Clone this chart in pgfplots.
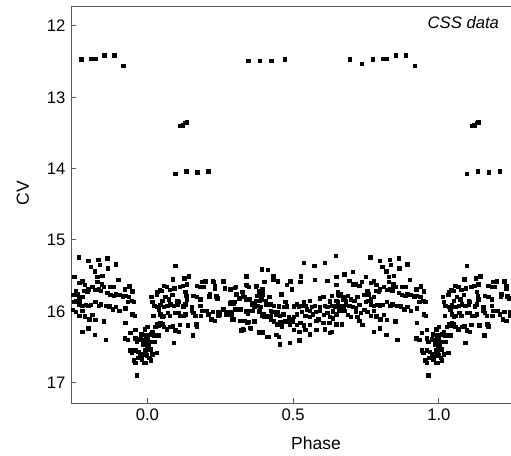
\documentclass[border=0pt]{standalone}
\usepackage{fontspec}
\setmainfont{Liberation Sans}
\usepackage{pgfplots}
\usepackage{pgfplotstable}
\pgfplotsset{compat=1.18}

% folded light curve, phase in [0,1)
\pgfplotstableread{
ph mag
0.096 14.07
0.134 14.04
0.172 14.05
0.209 14.04
0.113 13.40
0.121 13.39
0.130 13.36
0.136 13.35
0.346 12.49
0.386 12.49
0.426 12.49
0.471 12.47
0.695 12.47
0.735 12.53
0.774 12.47
0.808 12.46
0.822 12.46
0.853 12.41
0.887 12.41
0.918 12.56
0.096 15.36
0.087 15.55
0.127 15.54
0.142 15.51
0.056 15.64
0.066 15.66
0.042 15.70
0.034 15.73
0.050 15.71
0.077 15.70
0.093 15.68
0.111 15.66
0.122 15.64
0.136 15.62
0.169 15.64
0.186 15.59
0.198 15.58
0.181 15.66
0.192 15.66
0.224 15.58
0.232 15.64
0.232 15.68
0.260 15.58
0.266 15.68
0.285 15.69
0.303 15.66
0.305 15.76
0.325 15.73
0.014 15.80
0.032 15.77
0.051 15.85
0.062 15.80
0.073 15.83
0.085 15.77
0.102 15.85
0.130 15.73
0.133 15.78
0.136 15.83
0.158 15.78
0.169 15.80
0.181 15.83
0.215 15.76
0.212 15.79
0.235 15.79
0.240 15.82
0.288 15.87
0.299 15.87
0.316 15.82
0.017 15.87
0.023 15.92
0.034 15.94
0.040 15.97
0.045 15.91
0.056 15.94
0.068 15.92
0.079 15.90
0.090 15.92
0.102 15.90
0.107 15.87
0.130 15.90
0.124 15.93
0.153 15.94
0.153 15.99
0.181 15.92
0.186 15.99
0.183 16.06
0.203 15.99
0.209 16.04
0.224 16.01
0.220 16.11
0.243 16.01
0.243 16.06
0.260 15.97
0.271 16.04
0.288 16.04
0.303 15.97
0.316 15.97
0.292 16.11
0.328 16.13
0.322 16.27
0.020 16.06
0.045 16.04
0.051 16.08
0.056 16.06
0.070 16.02
0.077 16.06
0.096 16.02
0.107 16.02
0.113 16.06
0.124 16.06
0.130 16.04
0.158 16.02
0.164 16.06
0.034 16.18
0.040 16.20
0.045 16.16
0.051 16.18
0.028 16.22
0.056 16.22
0.066 16.25
0.079 16.22
0.088 16.21
0.111 16.19
0.138 16.20
0.167 16.18
0.169 16.21
0.096 16.27
0.107 16.29
0.000 16.22
0.017 16.29
0.011 16.32
0.023 16.34
0.040 16.34
0.156 16.34
0.090 16.44
0.994 16.34
0.000 16.39
0.006 16.43
0.023 16.43
0.998 16.48
0.011 16.53
0.032 16.58
0.017 16.60
0.994 16.60
0.006 16.65
0.011 16.69
0.994 16.72
0.300 15.67
0.305 15.76
0.339 15.63
0.328 15.79
0.339 15.83
0.296 15.89
0.289 16.01
0.300 15.97
0.317 15.97
0.339 15.99
0.345 16.03
0.294 16.11
0.317 16.13
0.333 16.13
0.328 16.25
0.339 15.51
0.348 15.66
0.348 16.15
0.351 16.23
0.362 15.99
0.384 15.99
0.393 16.04
0.401 16.07
0.412 16.08
0.424 16.06
0.359 15.89
0.367 15.90
0.384 15.85
0.407 15.85
0.418 15.80
0.418 15.90
0.384 15.73
0.395 15.76
0.373 15.64
0.401 15.59
0.384 16.29
0.395 16.29
0.412 16.36
0.367 16.14
0.226 15.59
0.266 15.67
0.283 15.70
0.237 15.79
0.283 15.89
0.249 16.04
0.277 16.01
0.232 16.13
0.536 15.32
0.572 15.36
0.609 15.32
0.646 15.22
0.392 15.41
0.414 15.42
0.340 15.51
0.432 15.51
0.432 15.55
0.447 15.58
0.490 15.58
0.479 15.63
0.496 15.69
0.527 15.51
0.524 15.59
0.575 15.56
0.617 15.57
0.649 15.52
0.649 15.63
0.341 15.64
0.372 15.65
0.394 15.69
0.383 15.72
0.377 15.78
0.332 15.80
0.349 15.83
0.372 15.85
0.391 15.83
0.417 15.80
0.459 15.76
0.473 15.87
0.502 15.93
0.536 15.87
0.558 15.85
0.592 15.82
0.603 15.80
0.632 15.78
0.654 15.76
0.626 15.86
0.649 15.85
0.360 15.90
0.366 15.93
0.377 15.92
0.388 15.94
0.406 15.90
0.423 15.90
0.434 15.92
0.451 15.93
0.468 15.94
0.479 15.93
0.513 15.90
0.519 15.94
0.524 15.92
0.541 15.92
0.547 15.97
0.564 15.94
0.575 15.92
0.592 15.94
0.609 15.92
0.617 15.94
0.632 15.92
0.643 15.93
0.658 15.93
0.321 15.97
0.338 16.01
0.355 15.99
0.383 16.01
0.394 16.06
0.400 16.04
0.412 16.06
0.423 15.99
0.428 16.01
0.440 16.04
0.445 16.01
0.454 16.06
0.466 16.04
0.485 16.08
0.490 16.11
0.502 16.08
0.513 16.04
0.530 16.01
0.541 16.06
0.558 15.99
0.567 16.04
0.578 16.01
0.592 15.99
0.606 16.05
0.617 16.02
0.637 16.00
0.649 16.04
0.558 16.08
0.586 16.11
0.626 16.08
0.637 16.10
0.327 16.13
0.343 16.16
0.366 16.15
0.423 16.11
0.434 16.14
0.445 16.18
0.456 16.15
0.462 16.21
0.473 16.14
0.488 16.18
0.499 16.14
0.513 16.19
0.524 16.16
0.536 16.20
0.558 16.19
0.580 16.13
0.603 16.16
0.624 16.16
0.649 16.18
0.330 16.26
0.355 16.24
0.383 16.30
0.394 16.30
0.417 16.36
0.443 16.33
0.451 16.36
0.502 16.26
0.522 16.29
0.541 16.26
0.558 16.32
0.580 16.26
0.609 16.25
0.626 16.30
0.632 16.29
0.454 16.46
0.488 16.44
0.522 16.41
0.764 15.24
0.798 15.29
0.832 15.28
0.862 15.26
0.892 15.34
0.806 15.38
0.836 15.35
0.865 15.40
0.820 15.44
0.845 15.50
0.828 15.52
0.901 15.56
0.676 15.48
0.704 15.45
0.693 15.57
0.715 15.62
0.707 15.62
0.727 15.64
0.735 15.59
0.749 15.52
0.766 15.60
0.777 15.58
0.786 15.63
0.798 15.69
0.811 15.66
0.828 15.59
0.843 15.62
0.834 15.69
0.851 15.66
0.873 15.66
0.885 15.66
0.922 15.69
0.938 15.65
0.949 15.72
0.653 15.73
0.659 15.78
0.664 15.76
0.670 15.83
0.676 15.80
0.681 15.85
0.687 15.78
0.698 15.83
0.710 15.85
0.721 15.80
0.744 15.77
0.755 15.71
0.760 15.76
0.766 15.83
0.777 15.80
0.783 15.71
0.794 15.72
0.822 15.70
0.840 15.71
0.862 15.74
0.873 15.77
0.885 15.78
0.892 15.76
0.904 15.77
0.915 15.79
0.924 15.78
0.936 15.80
0.947 15.85
0.653 15.87
0.662 15.92
0.674 15.93
0.681 15.90
0.693 15.92
0.704 15.94
0.715 15.96
0.727 15.91
0.749 15.87
0.757 15.85
0.766 15.90
0.777 15.92
0.789 15.91
0.798 15.92
0.806 15.91
0.822 15.87
0.834 15.92
0.840 15.90
0.857 15.92
0.870 15.93
0.881 15.97
0.892 15.94
0.904 15.99
0.924 15.96
0.933 15.87
0.953 15.87
0.949 16.04
0.956 16.06
0.659 15.99
0.676 15.99
0.687 16.05
0.698 16.08
0.715 16.00
0.721 16.08
0.732 16.02
0.744 15.98
0.755 16.01
0.766 16.06
0.777 15.99
0.786 16.07
0.800 16.11
0.811 16.05
0.822 16.12
0.667 16.18
0.727 16.13
0.738 16.19
0.798 16.24
0.777 16.29
0.820 16.33
0.851 16.14
0.857 16.40
0.924 16.16
0.922 16.38
0.941 16.30
0.958 16.26
0.979 16.32
0.992 16.25
0.998 16.34
0.933 16.40
0.958 16.38
0.964 16.43
0.975 16.39
0.992 16.41
0.986 16.46
0.003 16.48
0.941 16.55
0.947 16.58
0.958 16.55
0.969 16.57
0.975 16.60
0.981 16.62
0.967 16.65
0.981 16.67
0.992 16.55
0.998 16.62
0.003 16.53
0.953 16.69
0.958 16.72
0.990 16.72
0.964 16.90
}\css

\begin{document}
\begin{tikzpicture}
\begin{axis}[
  scale only axis,
  width=263.8pt, height=238pt,
  xmin=-0.261, xmax=1.2475,
  ymin=11.73, ymax=17.29,
  y dir=reverse,
  axis x line*=box, axis y line*=left,
  xtick pos=left,
  axis line style={draw=black!65, line width=0.8pt},
  tick style={draw=black!65, line width=0.6pt},
  tick align=inside,
  major tick length=3pt,
  xtick={0,0.5,1}, xticklabels={0.0,0.5,1.0},
  ytick={12,13,14,15,16,17},
  /pgf/number format/assume math mode=true,
  tick label style={font=\fontsize{10}{12}\selectfont},
  xlabel={Phase}, ylabel={CV},
  label style={font=\fontsize{10.5}{12}\selectfont},
  xlabel style={at={(axis description cs:0.5566,-0.100)}, anchor=center},
  ylabel style={at={(axis description cs:-0.110,0.530)}, anchor=center},
]
\addplot[only marks, mark=square*, mark size=1.05pt,
  mark options={draw=none, fill=black}]
  table[x=ph, y=mag] {\css};
\addplot[only marks, mark=square*, mark size=1.05pt,
  mark options={draw=none, fill=black}]
  table[x expr=\thisrow{ph}+1, y=mag] {\css};
\addplot[only marks, mark=square*, mark size=1.05pt,
  mark options={draw=none, fill=black}]
  table[x expr=\thisrow{ph}-1, y=mag] {\css};
\draw[black!65, line width=0.8pt] (axis description cs:0,1) -- (axis description cs:1,1);
\node[anchor=east, font=\itshape\fontsize{10}{12}\selectfont]
  at (axis description cs:0.986,0.959) {CSS data};
\coordinate (sw) at (axis description cs:0,0);
\end{axis}
\pgfresetboundingbox
\path (sw) ++(-42.8pt,-31.0pt) rectangle ++(306.6pt,273pt);
\end{tikzpicture}
\end{document}
